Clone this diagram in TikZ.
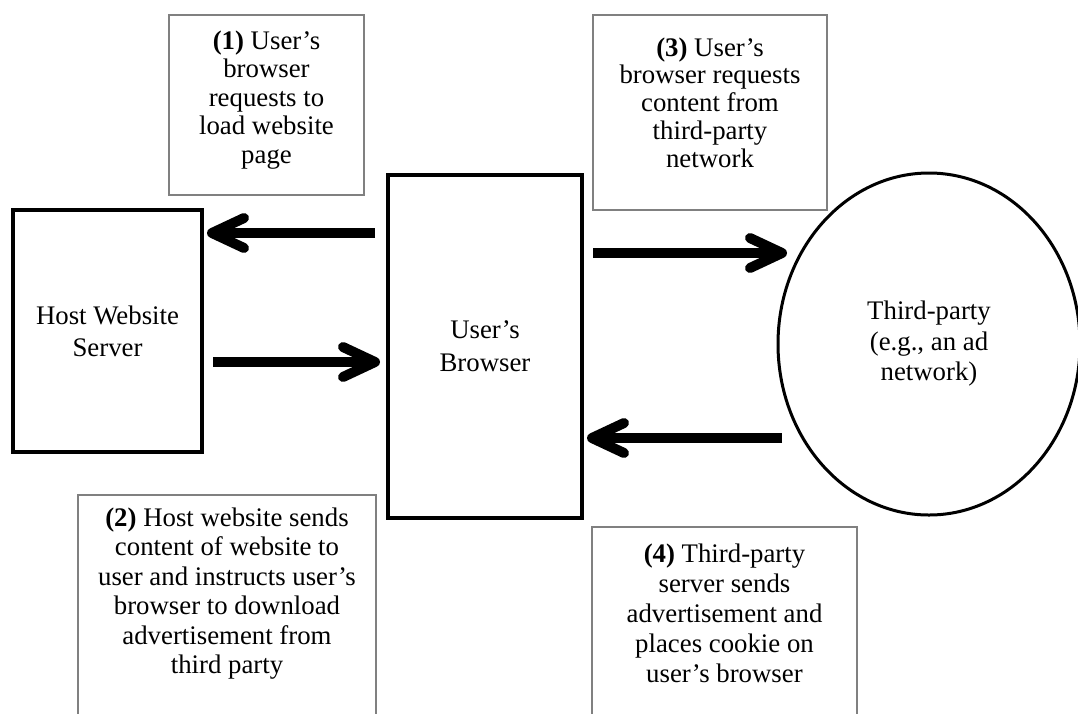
\documentclass[tikz,border=0pt]{standalone}
\usepackage{fontspec}
\setmainfont{Liberation Serif}
\usetikzlibrary{arrows.meta,shapes.geometric}
\definecolor{notegray}{gray}{0.5}

\begin{document}
\begin{tikzpicture}[x=1pt,y=-1pt,
  thickbox/.style={draw, line width=4pt, rectangle, outer sep=0pt, inner sep=0pt, align=center},
  note/.style={draw=notegray, line width=1.6pt, rectangle, outer sep=0pt, inner sep=0pt},
  notetext/.style={align=center, inner sep=0pt},
  bigarrow/.style={line width=10pt, -{Straight Barb[round, length=32pt, width=30pt]}},
  txt/.style 2 args={font=\fontsize{#1}{#2}\selectfont}
]
\useasboundingbox (0,0) rectangle (1078,713);
\fill[white] (0,0) rectangle (1078,713);
\clip (0,0) rectangle (1078,713);

% main parties
\node[thickbox, txt={26.8}{32}, minimum width=189pt, minimum height=242pt] (host) at (107.5,331) {Host Website\\Server};
\node[thickbox, txt={26.8}{33}, minimum width=194pt, minimum height=343pt] (browser) at (485,346.5) {User's\\Browser};
\node[draw, ellipse, line width=3pt, inner sep=0pt, outer sep=0pt, align=center, txt={26.8}{30.5},
      minimum width=302pt, minimum height=342pt] (tp) at (929,344) {Third-party\\(e.g., an ad\\network)};

% step notes
\node[note, minimum width=195pt, minimum height=180pt] (n1) at (266.5,105) {};
\node[notetext, txt={26.8}{28.5}] (t1) at (266.5,100) {\textbf{(1)} User's\\browser\\requests to\\load website\\page};

\node[note, minimum width=234pt, minimum height=195pt] (n3) at (710,112.5) {};
\node[notetext, txt={26.8}{27.8}] (t3) at (710,102.5) {\textbf{(3)} User's\\browser requests\\content from\\third-party\\network};

\node[note, minimum width=298pt, minimum height=245pt] (n2) at (227,617.5) {};
\node[notetext, txt={26.8}{29.4}] (t2) at (227,593.5) {\textbf{(2)} Host website sends\\content of website to\\user and instructs user's\\browser to download\\advertisement from\\third party};

\node[note, minimum width=265pt, minimum height=213pt] (n4) at (724.5,633.5) {};
\node[notetext, txt={26.8}{30}] (t4) at (724.5,613) {\textbf{(4)} Third-party\\server sends\\advertisement and\\places cookie on\\user's browser};

% message arrows
\coordinate (y1) at (0,233);
\coordinate (y2) at (0,362);
\coordinate (y3) at (0,253);
\coordinate (y4) at (0,438);
\draw[bigarrow, shorten <=13pt, shorten >=5pt] (browser.west |- y1) -- (host.east |- y1);
\draw[bigarrow, shorten <=11pt, shorten >=8pt] (host.east |- y2) -- (browser.west |- y2);
\draw[bigarrow, shorten <=11pt, shorten >=-9pt] (browser.east |- y3) -- (tp.west |- y3);
\draw[bigarrow, shorten <=-4pt, shorten >=5pt] (tp.west |- y4) -- (browser.east |- y4);
\end{tikzpicture}
\end{document}
